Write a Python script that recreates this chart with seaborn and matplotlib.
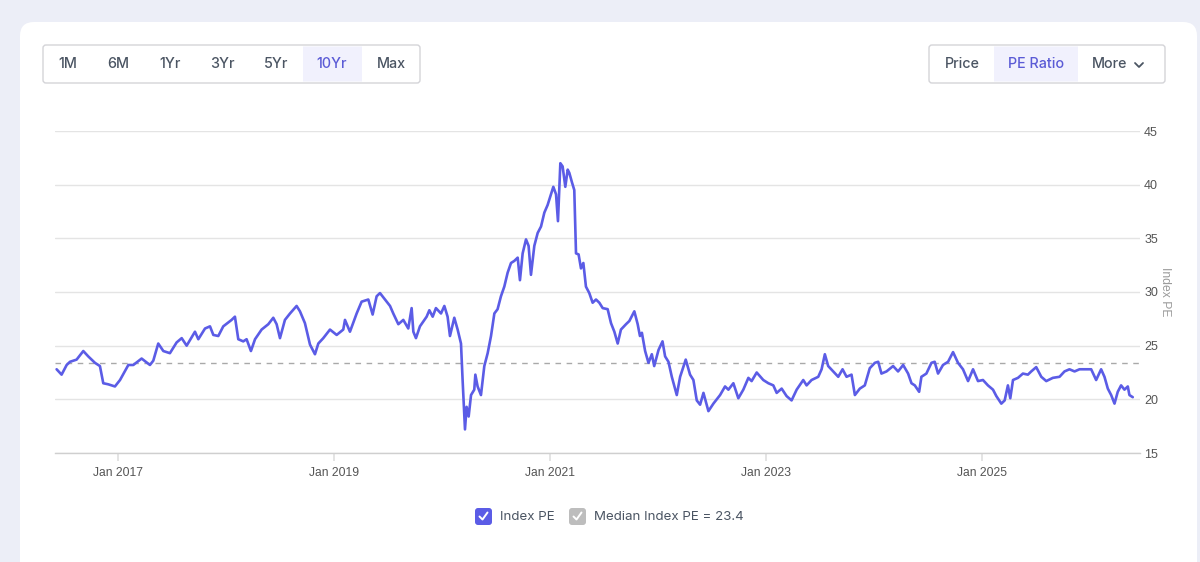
import numpy as np
import pandas as pd
import seaborn as sns
import matplotlib.pyplot as plt
import matplotlib.dates as mdates
from matplotlib.patches import FancyBboxPatch

# Index PE (decimal year, PE value)
years = [
    2016.432, 2016.478, 2016.525, 2016.556, 2016.617, 2016.679, 2016.725, 2016.787, 2016.833, 2016.864,
    2016.910, 2016.972, 2017.019, 2017.096, 2017.142, 2017.219, 2017.296, 2017.327, 2017.373, 2017.420,
    2017.481, 2017.543, 2017.590, 2017.636, 2017.713, 2017.744, 2017.806, 2017.852, 2017.883, 2017.929,
    2017.975, 2018.052, 2018.083, 2018.114, 2018.160, 2018.191, 2018.231, 2018.269, 2018.330, 2018.392,
    2018.438, 2018.469, 2018.500, 2018.546, 2018.593, 2018.654, 2018.685, 2018.731, 2018.778, 2018.824,
    2018.855, 2018.901, 2018.963, 2019.025, 2019.086, 2019.102, 2019.148, 2019.210, 2019.256, 2019.318,
    2019.358, 2019.395, 2019.426, 2019.472, 2019.519, 2019.549, 2019.596, 2019.642, 2019.688, 2019.719,
    2019.735, 2019.759, 2019.796, 2019.858,
    2019.883, 2019.914, 2019.944, 2019.991, 2020.022, 2020.052, 2020.074, 2020.114, 2020.145, 2020.176,
    2020.191, 2020.213, 2020.228, 2020.247, 2020.269, 2020.299, 2020.309, 2020.330, 2020.361, 2020.392,
    2020.423, 2020.454, 2020.485, 2020.515, 2020.546, 2020.577, 2020.608, 2020.639, 2020.670, 2020.701,
    2020.722, 2020.747, 2020.778, 2020.802, 2020.824, 2020.855, 2020.886, 2020.917, 2020.948, 2020.978,
    2021.009, 2021.031, 2021.056, 2021.074, 2021.096, 2021.117, 2021.142, 2021.164, 2021.179, 2021.204,
    2021.225, 2021.241, 2021.265, 2021.287, 2021.309, 2021.333, 2021.364, 2021.395, 2021.426, 2021.457,
    2021.488, 2021.534, 2021.565, 2021.596, 2021.627, 2021.657, 2021.704, 2021.735, 2021.781, 2021.812,
    2021.833,
    2021.851, 2021.881, 2021.912, 2021.943, 2021.965, 2022.005, 2022.042, 2022.066, 2022.097, 2022.128,
    2022.174, 2022.205, 2022.257, 2022.297, 2022.328, 2022.359, 2022.390, 2022.421, 2022.467, 2022.513,
    2022.575, 2022.621, 2022.652, 2022.698, 2022.744, 2022.790, 2022.837, 2022.867, 2022.914, 2022.975,
    2023.022, 2023.068, 2023.099, 2023.145, 2023.191, 2023.237, 2023.284, 2023.345, 2023.376, 2023.422,
    2023.484, 2023.515, 2023.545, 2023.576, 2023.622, 2023.669, 2023.709, 2023.746, 2023.792, 2023.823,
    2023.869, 2023.915, 2023.961, 2024.008, 2024.039, 2024.069, 2024.116, 2024.177, 2024.223, 2024.270,
    2024.316, 2024.347, 2024.378, 2024.418, 2024.439, 2024.485, 2024.532, 2024.562, 2024.593, 2024.639,
    2024.686, 2024.732, 2024.778, 2024.824, 2024.871, 2024.917, 2024.963, 2025.009, 2025.055, 2025.102,
    2025.133, 2025.179, 2025.210, 2025.240, 2025.262, 2025.287, 2025.333, 2025.379, 2025.425, 2025.456,
    2025.502, 2025.549, 2025.595, 2025.656, 2025.718, 2025.764, 2025.810, 2025.857, 2025.903, 2025.965,
    2026.011, 2026.057, 2026.103, 2026.134, 2026.165, 2026.196, 2026.227, 2026.257, 2026.288, 2026.319,
    2026.350, 2026.365, 2026.396,
]
pe = [
    22.8, 22.3, 23.2, 23.5, 23.7, 24.5, 24.0, 23.4, 23.1, 21.5,
    21.4, 21.2, 21.8, 23.2, 23.2, 23.8, 23.2, 23.6, 25.2, 24.5,
    24.3, 25.3, 25.7, 25.0, 26.3, 25.6, 26.6, 26.8, 26.0, 25.9,
    26.8, 27.4, 27.7, 25.6, 25.4, 25.6, 24.5, 25.6, 26.5, 27.0,
    27.6, 27.0, 25.7, 27.4, 28.0, 28.7, 28.2, 27.1, 25.1, 24.2,
    25.2, 25.7, 26.5, 26.0, 26.5, 27.4, 26.3, 28.0, 29.1, 29.3,
    27.9, 29.6, 29.9, 29.3, 28.7, 28.0, 27.0, 27.4, 26.6, 28.5,
    26.3, 25.7, 26.8, 27.7,
    28.3, 27.7, 28.5, 28.0, 28.7, 27.7, 25.9, 27.6, 26.5, 25.2,
    21.8, 17.2, 19.3, 18.4, 20.4, 20.9, 22.3, 21.2, 20.4, 23.1,
    24.3, 25.9, 28.0, 28.4, 29.6, 30.5, 31.8, 32.7, 32.9, 33.2,
    31.1, 33.6, 34.9, 34.3, 31.6, 34.3, 35.5, 36.1, 37.4, 38.1,
    39.1, 39.8, 39.1, 36.6, 42.0, 41.7, 39.8, 41.4, 41.1, 40.2,
    39.5, 33.6, 33.5, 32.2, 32.7, 30.5, 29.9, 29.0, 29.3, 29.0,
    28.5, 28.4, 27.1, 26.3, 25.2, 26.5, 27.0, 27.3, 28.2, 27.0,
    25.9,
    26.2, 24.5, 23.4, 24.2, 23.1, 24.6, 25.4, 24.0, 23.5, 22.1,
    20.4, 22.1, 23.7, 22.3, 21.8, 19.9, 19.5, 20.6, 18.9, 19.6,
    20.4, 21.2, 20.9, 21.5, 20.1, 20.9, 22.0, 21.7, 22.5, 21.8,
    21.5, 21.3, 20.6, 21.0, 20.3, 19.9, 20.9, 21.8, 21.3, 21.8,
    22.1, 22.8, 24.2, 23.1, 22.6, 22.1, 22.8, 22.1, 22.3, 20.4,
    21.0, 21.3, 22.9, 23.4, 23.5, 22.4, 22.6, 23.1, 22.6, 23.2,
    22.4, 21.5, 21.3, 20.7, 22.1, 22.4, 23.4, 23.5, 22.4, 23.2,
    23.5, 24.4, 23.4, 22.8, 21.7, 22.8, 21.7, 21.8, 21.3, 20.9,
    20.3, 19.6, 19.9, 21.3, 20.1, 21.8, 22.0, 22.4, 22.3, 22.6,
    23.0, 22.1, 21.7, 22.0, 22.1, 22.6, 22.8, 22.6, 22.8, 22.8,
    22.8, 21.8, 22.8, 22.1, 21.0, 20.4, 19.6, 20.7, 21.3, 20.9,
    21.2, 20.4, 20.2,
]
median_pe = 23.4
y_ticks = [15, 20, 25, 30, 35, 40, 45]
x_ticks = ["2017-01-01", "2019-01-01", "2021-01-01", "2023-01-01", "2025-01-01"]
x_range = [2016.417, 2026.463]
range_buttons = ["1M", "6M", "1Yr", "3Yr", "5Yr", "10Yr", "Max"]
view_buttons = ["Price", "PE Ratio", "More"]
legend_labels = ["Index PE", f"Median Index PE = {median_pe}"]


def to_dates(yrs):
    yrs = np.asarray(yrs, dtype=float)
    return pd.to_datetime("2016-01-01") + pd.to_timedelta((yrs - 2016) * 365.25, unit="D")


df = pd.DataFrame({"date": to_dates(years), "pe": pe})

LINE = "#5b5ce6"
TXT = "#4b5563"
ACCENT = "#5b5bd6"

sns.set_theme(style="white")
plt.rcParams['font.family'] = ['Inter', 'DejaVu Sans']

W, H = 1200, 562
fig = plt.figure(figsize=(12, 5.62), dpi=100, facecolor="#eceef7")

# page layer in pixel coordinates (top-left origin)
bg = fig.add_axes([0, 0, 1, 1], zorder=0)
bg.set_xlim(0, W)
bg.set_ylim(H, 0)
bg.axis("off")


def box(x0, y0, x1, y1, r, fc, ec="none", lw=1.0, z=1):
    bg.add_patch(FancyBboxPatch((x0, y0), x1 - x0, y1 - y0,
                                boxstyle=f"round,pad=0,rounding_size={r}",
                                fc=fc, ec=ec, lw=lw, zorder=z))


# card
box(20, 22, 1197, 620, 14, "white")

# range button group
box(43, 45, 420, 83, 3, "white", "#d4d4d8", 1.0, 2)
box(303, 46.5, 362, 81.5, 0, "#f1f1fd", z=2)
range_x = [68, 118, 170, 222, 276, 332, 391]
for lbl, cx in zip(range_buttons, range_x):
    bg.text(cx, 64.5, lbl, ha="center", va="center", fontsize=10.3, fontweight="medium",
            color=ACCENT if lbl == "10Yr" else TXT, zorder=3)

# view button group
box(929, 45, 1165, 83, 3, "white", "#d4d4d8", 1.0, 2)
box(994, 46.5, 1078, 81.5, 0, "#f1f1fd", z=2)
view_x = [962, 1036, 1110]
for lbl, cx in zip(view_buttons, view_x):
    bg.text(cx, 64.5, lbl, ha="center", va="center", fontsize=10.3, fontweight="medium",
            color=ACCENT if lbl == "PE Ratio" else TXT, zorder=3)
bg.plot([1135, 1139, 1143], [63, 67, 63], color=TXT, lw=1.3, zorder=3,
        solid_capstyle="round", solid_joinstyle="round")

# legend
for (x0, fc), lbl in zip([(475, LINE), (569, "#bdbdbd")], legend_labels):
    box(x0, 508, x0 + 17, 525, 3, fc, z=2)
    bg.plot([x0 + 4.5, x0 + 7.5, x0 + 12.5], [516.5, 519.5, 512.5], color="white", lw=1.4,
            zorder=3, solid_capstyle="round", solid_joinstyle="round")
    bg.text(x0 + 25, 516.5, lbl, ha="left", va="center", fontsize=9.6, color=TXT, zorder=3)

# chart
ax = fig.add_axes([55 / W, 1 - 453 / H, (1140 - 55) / W, (453 - 131) / H], zorder=2)
ax.patch.set_alpha(0)
ax.axhline(median_pe, color="#a9a9a9", linestyle=(0, (4, 4)), linewidth=1, zorder=2)
sns.lineplot(data=df, x="date", y="pe", color=LINE, linewidth=1.9, ax=ax, zorder=3)

ax.set_xlim(to_dates(x_range))
ax.set_ylim(15, 45)
ax.set_yticks(y_ticks)
ax.yaxis.tick_right()
ax.yaxis.set_label_position("right")
ax.grid(axis="y", color="#e4e4e4", linewidth=1)
ax.grid(axis="x", visible=False)
for s in ["top", "left", "right"]:
    ax.spines[s].set_visible(False)
ax.spines["bottom"].set_color("#cfcfcf")
ax.spines["bottom"].set_linewidth(1)

ax.set_xticks(pd.to_datetime(x_ticks))
ax.xaxis.set_major_formatter(mdates.DateFormatter("%b %Y"))
ax.tick_params(axis="x", bottom=True, length=6, color="#e0e0e0", labelcolor="#555555",
               labelsize=8.7, pad=4)
ax.tick_params(axis="y", right=True, length=0, labelcolor="#555555", labelsize=9, pad=3)
for t in ax.get_xticklabels() + ax.get_yticklabels():
    t.set_family(["Liberation Sans", "DejaVu Sans"])
ax.set_xlabel("")
ax.set_ylabel("Index PE", rotation=270, color="#9a9a9a", fontsize=8.7, labelpad=9,
              family=["Liberation Sans", "DejaVu Sans"])

fig.savefig("out.png", dpi=100, facecolor=fig.get_facecolor())
